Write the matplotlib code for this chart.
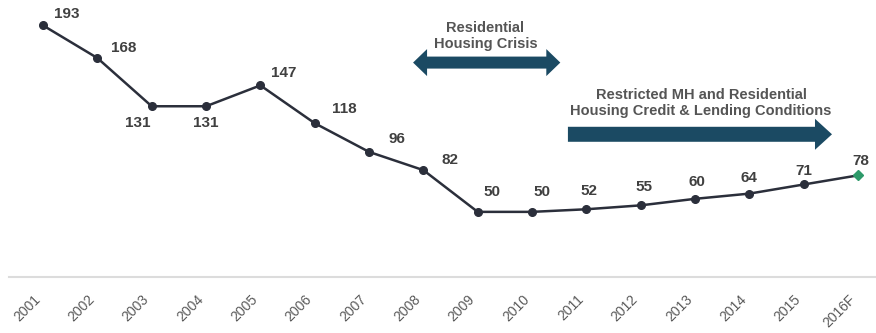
import matplotlib
matplotlib.use("Agg")
import matplotlib.pyplot as plt
from matplotlib.patches import Polygon
from matplotlib.transforms import IdentityTransform

plt.rcParams.update({
    "font.family": ["Liberation Sans", "DejaVu Sans"],
    "figure.dpi": 100,
})

# ── Data ──────────────────────────────────────────────────────────────────────
YEARS = ["2001", "2002", "2003", "2004", "2005", "2006", "2007", "2008",
         "2009", "2010", "2011", "2012", "2013", "2014", "2015", "2016F"]
SHIPMENTS = [193, 168, 131, 131, 147, 118, 96, 82,
             50, 50, 52, 55, 60, 64, 71, 78]

# label offsets (points) from each marker
LABEL_OFFSETS = [(17, 8), (19, 7), (-10, -12), (0, -12), (17, 9), (21, 10),
                 (20, 9), (19, 7), (10, 14), (7, 14), (2, 13), (2, 13),
                 (1, 12), (0, 11), (0, 10), (2, 10)]

LINE_COL = "#2b2f3b"
FORECAST_COL = "#2e9a6a"
ARROW_COL = "#1b4a63"
TEXT_COL = "#404040"
NOTE_COL = "#555555"

fig = plt.figure(figsize=(8.76, 3.33))
ax = fig.add_axes([0.0103, 0.168, 0.9897, 0.832])
ax.set_xlim(-0.626, 15.33)
ax.set_ylim(0, 212.5)

x = list(range(len(YEARS)))
ax.plot(x, SHIPMENTS, color=LINE_COL, lw=1.8, zorder=3)
ax.plot(x[:-1], SHIPMENTS[:-1], ls="none", marker="o", ms=5.5,
        color=LINE_COL, zorder=4)
ax.plot(x[-1:], SHIPMENTS[-1:], ls="none", marker="D", ms=5,
        color=FORECAST_COL, zorder=5)

for xi, v, (dx, dy) in zip(x, SHIPMENTS, LABEL_OFFSETS):
    ax.annotate(str(v), (xi, v), xytext=(dx, dy), textcoords="offset points",
                ha="center", va="center", fontsize=11, fontweight="bold",
                color=TEXT_COL)


# ── Period arrows (block arrows, sized in pixels) ────────────────────────────
def block_arrow(x0, x1, y, tail, head_w, head_l, double=False):
    (px0, py), (px1, _) = ax.transData.transform([(x0, y), (x1, y)])
    t, h = tail / 2, head_w / 2
    right = [(px1 - head_l, py + t), (px1 - head_l, py + h), (px1, py),
             (px1 - head_l, py - h), (px1 - head_l, py - t)]
    if double:
        left = [(px0 + head_l, py - t), (px0 + head_l, py - h), (px0, py),
                (px0 + head_l, py + h), (px0 + head_l, py + t)]
    else:
        left = [(px0, py - t), (px0, py + t)]
    ax.add_patch(Polygon(left[-1:] + right + left[:-1], closed=True,
                         transform=IdentityTransform(), facecolor=ARROW_COL,
                         edgecolor="none", zorder=2))


block_arrow(6.81, 9.52, 164.5, 12, 27, 14, double=True)
ax.text(8.14, 185, "Residential\nHousing Crisis", ha="center", va="center",
        fontsize=10.5, fontweight="bold", color=NOTE_COL, linespacing=1.2)

block_arrow(9.66, 14.52, 109.5, 15, 31, 17)
ax.text(12.11, 133.5,
        "Restricted MH and Residential\nHousing Credit & Lending Conditions",
        ha="center", va="center", fontsize=10.5, fontweight="bold",
        color=NOTE_COL, linespacing=1.2)

# ── Axes ──────────────────────────────────────────────────────────────────────
ax.set_yticks([])
ax.set_xticks(x)
ax.set_xticklabels(YEARS, rotation=45, ha="right",
                   fontsize=10, color="#5a5a5a")
ax.tick_params(axis="x", length=0, pad=11)
for side in ("top", "right", "left"):
    ax.spines[side].set_visible(False)
ax.spines["bottom"].set_color("#dcdcdc")
ax.spines["bottom"].set_linewidth(1.5)

fig.savefig("out.png", dpi=100)
